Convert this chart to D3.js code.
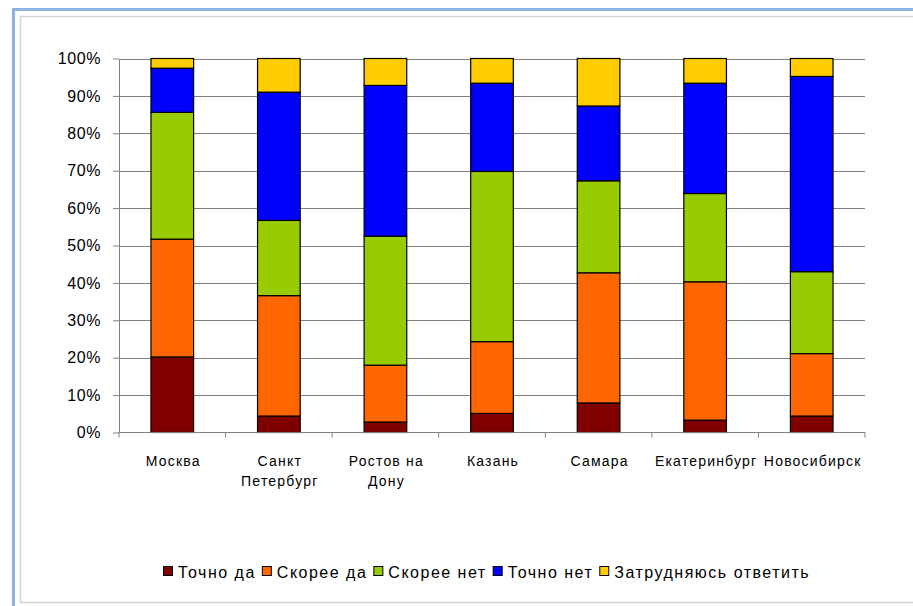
<!DOCTYPE html>
<html>
<head>
<meta charset="utf-8">
<script src="https://cdn.jsdelivr.net/npm/d3@7"></script>
<style>
	body { margin: 0; background: #fff; }
	svg { display: block; font-family: 'Liberation Sans', Arial, sans-serif; }
</style>
</head>
<body>
<svg id="chart" width="913" height="606"></svg>
<script>
const cities = ['Москва', 'Санкт Петербург', 'Ростов на Дону', 'Казань', 'Самара', 'Екатеринбург', 'Новосибирск'];
const cityLabels = [['Москва'], ['Санкт', 'Петербург'], ['Ростов на', 'Дону'], ['Казань'], ['Самара'], ['Екатеринбург'], ['Новосибирск']];
const seriesNames = ['Точно да', 'Скорее да', 'Скорее нет', 'Точно нет', 'Затрудняюсь ответить'];
const seriesColors = ['#800000', '#FF6600', '#99CC00', '#0000FF', '#FFCC00'];

// percentages by city, same order as cities
const tochnoDa = [20.2, 4.4, 2.8, 5.1, 7.9, 3.3, 4.4];
const skoreeDa = [31.5, 32.2, 15.2, 19.2, 34.8, 37.0, 16.7];
const skoreeNet = [33.9, 20.1, 34.5, 45.5, 24.6, 23.6, 21.9];
const tochnoNet = [11.8, 34.3, 40.3, 23.6, 20.0, 29.5, 52.2];
const zatrud = [2.6, 9.0, 7.2, 6.6, 12.7, 6.6, 4.8];
const yTicks = [0, 10, 20, 30, 40, 50, 60, 70, 80, 90, 100];

const allSeries = [tochnoDa, skoreeDa, skoreeNet, tochnoNet, zatrud];
const table = cities.map((c, i) => {
	const row = { city: c };
	seriesNames.forEach((s, j) => { row[s] = allSeries[j][i]; });
	return row;
});

const svg = d3.select('#chart');

// frame
svg.append('path').attr('d', 'M13.5,606 V9.5 H913').attr('fill', 'none').attr('stroke', '#8DB4E2').attr('stroke-width', 3);
svg.append('path').attr('d', 'M913,16.5 H20.5 V602.5 H913').attr('fill', 'none').attr('stroke', '#D4D4D4').attr('stroke-width', 1.5);

const plotLeft = 119, plotRight = 865, plotTop = 58.5, plotBottom = 432.5;

const x = d3.scaleBand().domain(cities).range([plotLeft, plotRight]).paddingInner(0.6).paddingOuter(0.3);
const y = d3.scaleLinear().domain([0, 100]).range([plotBottom, plotTop]);

// gridlines
svg.append('g')
	.selectAll('line')
	.data(yTicks.filter((t) => t > 0))
	.enter()
	.append('line')
	.attr('x1', plotLeft).attr('x2', plotRight)
	.attr('y1', (d) => Math.round(y(d)) + 0.5).attr('y2', (d) => Math.round(y(d)) + 0.5)
	.attr('stroke', '#808080').attr('stroke-width', 1);

// y axis
const yAxis = svg.append('g')
	.attr('transform', `translate(${plotLeft},0)`)
	.call(d3.axisLeft(y).tickValues(yTicks).tickFormat((d) => d + '%').tickSize(6).tickPadding(12).tickSizeOuter(0));
yAxis.select('.domain').attr('stroke', '#808080');
yAxis.selectAll('.tick line').attr('stroke', '#808080');
yAxis.selectAll('.tick text').attr('fill', '#000').style('font-size', '16px').style('letter-spacing', '0.6px').style('font-family', "'Liberation Sans', Arial, sans-serif");

// bars
const stack = d3.stack().keys(seriesNames)(table);
svg.append('g')
	.selectAll('g')
	.data(stack)
	.enter()
	.append('g')
	.attr('fill', (d, i) => seriesColors[i])
	.selectAll('rect')
	.data((d) => d)
	.enter()
	.append('rect')
	.attr('x', (d) => x(d.data.city))
	.attr('width', x.bandwidth())
	.attr('y', (d) => y(d[1]))
	.attr('height', (d) => y(d[0]) - y(d[1]))
	.attr('stroke', '#000')
	.attr('stroke-width', 1.2);

// x axis
const step = x.step();
const x0 = x(cities[0]) - step * 0.3;
svg.append('line')
	.attr('x1', plotLeft).attr('x2', plotRight)
	.attr('y1', plotBottom).attr('y2', plotBottom)
	.attr('stroke', '#808080');
svg.append('g')
	.selectAll('line')
	.data(d3.range(cities.length + 1))
	.enter()
	.append('line')
	.attr('x1', (i) => x0 + i * step).attr('x2', (i) => x0 + i * step)
	.attr('y1', plotBottom).attr('y2', plotBottom + 5)
	.attr('stroke', '#808080');

const labels = svg.append('g')
	.selectAll('text')
	.data(cities)
	.enter()
	.append('text')
	.attr('text-anchor', 'middle')
	.style('font-size', '14px')
	.style('letter-spacing', '1.2px')
	.attr('fill', '#000');
labels.each(function (c, i) {
	const t = d3.select(this);
	cityLabels[i].forEach((line, k) => {
		t.append('tspan')
			.attr('x', x(c) + x.bandwidth() / 2 + 1)
			.attr('y', 466 + k * 20)
			.text(line);
	});
});

// legend
const legend = svg.append('g').attr('transform', 'translate(163,572)');
let lx = 0;
seriesNames.forEach((name, i) => {
	const item = legend.append('g').attr('transform', `translate(${lx},0)`);
	item.append('rect')
		.attr('x', 0.5).attr('y', -5.5)
		.attr('width', 9).attr('height', 9)
		.attr('fill', seriesColors[i]).attr('stroke', '#000');
	const txt = item.append('text')
		.attr('x', 15).attr('y', 5.5)
		.style('font-size', '16px')
		.style('letter-spacing', '1.5px')
		.text(name);
	lx += 15 + txt.node().getComputedTextLength() + 6;
});
</script>
</body>
</html>
